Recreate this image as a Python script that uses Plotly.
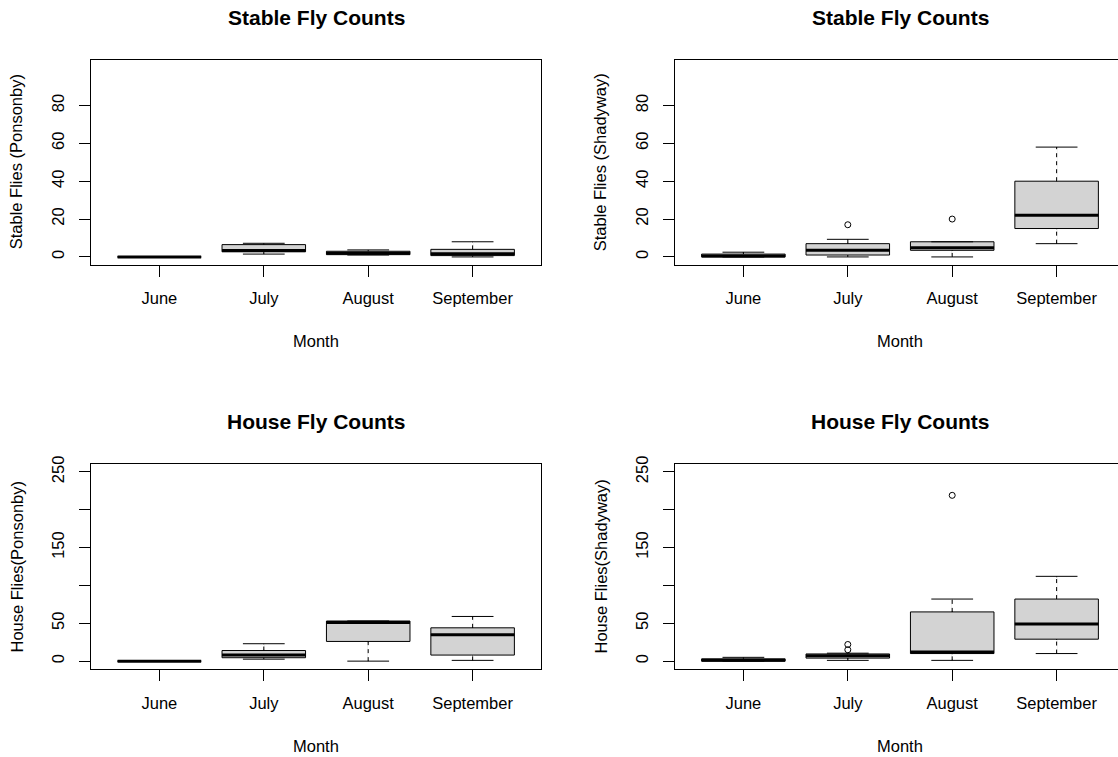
import plotly.graph_objects as go

W, H = 1118, 757

months = ["June", "July", "August", "September"]
positions = [1, 2, 3, 4]

# box statistics per month: lower whisker, q1, median, q3, upper whisker
stable_pon_low = [0, 1.5, 1, 0]
stable_pon_q1 = [0, 2.7, 1.2, 0.7]
stable_pon_med = [0, 3.4, 2, 1.7]
stable_pon_q3 = [0, 6.5, 3, 4]
stable_pon_up = [0, 7.2, 3.7, 8]
stable_pon_out = [[], [], [], []]

stable_sha_low = [0, 0, 0, 7]
stable_sha_q1 = [0, 1, 3.5, 15]
stable_sha_med = [0.5, 3.5, 4.8, 22]
stable_sha_q3 = [1.5, 7, 8, 40]
stable_sha_up = [2.5, 9.3, 8, 58]
stable_sha_out = [[], [17], [20], []]

house_pon_low = [0, 2.6, 0, 1]
house_pon_q1 = [0, 4.5, 26, 8]
house_pon_med = [0, 8, 51, 35]
house_pon_q3 = [0, 14, 53, 44]
house_pon_up = [0, 23, 53, 59]
house_pon_out = [[], [], [], []]

house_sha_low = [0, 1, 1, 10]
house_sha_q1 = [0, 4, 10, 29]
house_sha_med = [1, 7, 12, 49]
house_sha_q3 = [3, 9.5, 65, 82]
house_sha_up = [5, 10.5, 82, 112]
house_sha_out = [[], [15, 22], [219], []]

stable_ticks = [0, 20, 40, 60, 80]
stable_ticktext = ["0", "20", "40", "60", "80"]
house_ticks = [0, 50, 100, 150, 200, 250]
house_ticktext = ["0", "50", "", "150", "", "250"]

FONT = "Liberation Sans, Arial, sans-serif"

fig = go.Figure()

# geometry in reference-picture pixels
xl = [91, 541]
xr = [675, 1125]
yt = [60, 264.5]
yb = [464.3, 668.7]
XR_UNITS = (0.345, 4.655)
px_per_unit = (xl[1] - xl[0]) / (XR_UNITS[1] - XR_UNITS[0])


def px(x):
    return x / W


def py(y):
    return 1 - y / H


def dom_x(a, b):
    return [max(px(a), 0.0), min(px(b), 1.0)]


def dom_y(a, b):
    return [py(b), py(a)]


panels = [
    dict(ax="", low=stable_pon_low, q1=stable_pon_q1, med=stable_pon_med, q3=stable_pon_q3, up=stable_pon_up,
         out=stable_pon_out, xd=xl, yd=yt, yr=[-4, 104], tv=stable_ticks, tt=stable_ticktext,
         title="Stable Fly Counts", ty=18, ytitle="Stable Flies (Ponsonby)"),
    dict(ax="2", low=stable_sha_low, q1=stable_sha_q1, med=stable_sha_med, q3=stable_sha_q3, up=stable_sha_up,
         out=stable_sha_out, xd=xr, yd=yt, yr=[-4, 104], tv=stable_ticks, tt=stable_ticktext,
         title="Stable Fly Counts", ty=18, ytitle="Stable Flies (Shadyway)"),
    dict(ax="3", low=house_pon_low, q1=house_pon_q1, med=house_pon_med, q3=house_pon_q3, up=house_pon_up,
         out=house_pon_out, xd=xl, yd=yb, yr=[-10, 260], tv=house_ticks, tt=house_ticktext,
         title="House Fly Counts", ty=422, ytitle="House Flies(Ponsonby)"),
    dict(ax="4", low=house_sha_low, q1=house_sha_q1, med=house_sha_med, q3=house_sha_q3, up=house_sha_up,
         out=house_sha_out, xd=xr, yd=yb, yr=[-10, 260], tv=house_ticks, tt=house_ticktext,
         title="House Fly Counts", ty=422, ytitle="House Flies(Shadyway)"),
]

annotations = []
layout_axes = {}
for p in panels:
    xa = "x" + p["ax"]
    ya = "y" + p["ax"]
    fig.add_trace(go.Box(
        x=positions, q1=p["q1"], median=p["med"], q3=p["q3"],
        lowerfence=p["low"], upperfence=p["up"],
        width=0.8, whiskerwidth=0.5,
        fillcolor="#D3D3D3", line=dict(color="black", width=1),
        boxpoints=False, showlegend=False, xaxis=xa, yaxis=ya, hoverinfo="skip"))
    ppu_y = (p["yd"][1] - p["yd"][0]) / (p["yr"][1] - p["yr"][0])
    eps = 0.8 / ppu_y
    for i, pos in enumerate(positions):
        for a, b in ((p["q3"][i], p["up"][i]), (p["low"][i], p["q1"][i])):
            if b - a > 2 * eps:
                fig.add_trace(go.Scatter(x=[pos, pos], y=[a + eps, b - eps], mode="lines",
                                         line=dict(color="white", width=2), showlegend=False,
                                         hoverinfo="skip", xaxis=xa, yaxis=ya))
                fig.add_trace(go.Scatter(x=[pos, pos], y=[a, b], mode="lines",
                                         line=dict(color="black", width=1, dash="4px,4px"),
                                         showlegend=False, hoverinfo="skip", xaxis=xa, yaxis=ya))
        fig.add_trace(go.Scatter(x=[pos - 0.4, pos + 0.4], y=[p["med"][i], p["med"][i]], mode="lines",
                                 line=dict(color="black", width=3), showlegend=False,
                                 hoverinfo="skip", xaxis=xa, yaxis=ya))
        if p["out"][i]:
            fig.add_trace(go.Scatter(x=[pos] * len(p["out"][i]), y=p["out"][i], mode="markers",
                                     marker=dict(symbol="circle-open", size=6, color="black",
                                                 line=dict(width=1, color="black")),
                                     showlegend=False, hoverinfo="skip", xaxis=xa, yaxis=ya))
    x0, x1 = p["xd"]
    xr_end = XR_UNITS[1]
    if x1 > W:
        xr_end = XR_UNITS[0] + (W - x0) / px_per_unit
    layout_axes["xaxis" + p["ax"]] = dict(
        domain=dom_x(x0, x1), anchor=ya, range=[XR_UNITS[0], xr_end],
        tickvals=positions, ticktext=months, ticks="outside", ticklen=11, tickcolor="black",
        ticklabelstandoff=8,
        showline=True, linecolor="black", linewidth=1, mirror=True, showgrid=False, zeroline=False,
        automargin=False,
        tickfont=dict(family=FONT, size=16.5, color="black"), fixedrange=True)
    layout_axes["yaxis" + p["ax"]] = dict(
        domain=dom_y(*p["yd"]), anchor=xa, range=p["yr"],
        tickvals=p["tv"], ticktext=p["tt"], ticks="outside", ticklen=11, tickcolor="black",
        ticklabelstandoff=8,
        tickangle=-90, showline=True, linecolor="black", linewidth=1,
        mirror=x1 <= W, showgrid=False, zeroline=False, automargin=False,
        tickfont=dict(family=FONT, size=16.5, color="black"), fixedrange=True)
    cx = (x0 + x1) / 2
    cy = (p["yd"][0] + p["yd"][1]) / 2
    annotations.append(dict(text=p["title"], x=px(cx), y=py(p["ty"]), xref="paper", yref="paper",
                            xanchor="center", yanchor="middle", showarrow=False,
                            font=dict(family=FONT, size=21, color="black", weight="bold")))
    annotations.append(dict(text="Month", x=px(cx), y=py(p["yd"][1] + 77), xref="paper",
                            yref="paper", xanchor="center", yanchor="middle", showarrow=False,
                            font=dict(family=FONT, size=16.5, color="black")))
    annotations.append(dict(text=p["ytitle"], x=px(x0 - 75), y=py(cy), xref="paper",
                            yref="paper", xanchor="center", yanchor="middle", textangle=-90,
                            showarrow=False, font=dict(family=FONT, size=16.5, color="black")))

fig.update_layout(
    width=W, height=H, margin=dict(l=0, r=0, t=0, b=0, pad=0, autoexpand=False),
    paper_bgcolor="white", plot_bgcolor="white",
    font=dict(family=FONT, size=16.5, color="black"),
    showlegend=False, annotations=annotations, **layout_axes)

page_css = ("document.documentElement.style.margin='0';document.body.style.margin='0';"
            "document.documentElement.style.overflow='hidden';document.body.style.overflow='hidden';")
fig.write_html("out.html", config={"displayModeBar": False}, post_script=page_css)
